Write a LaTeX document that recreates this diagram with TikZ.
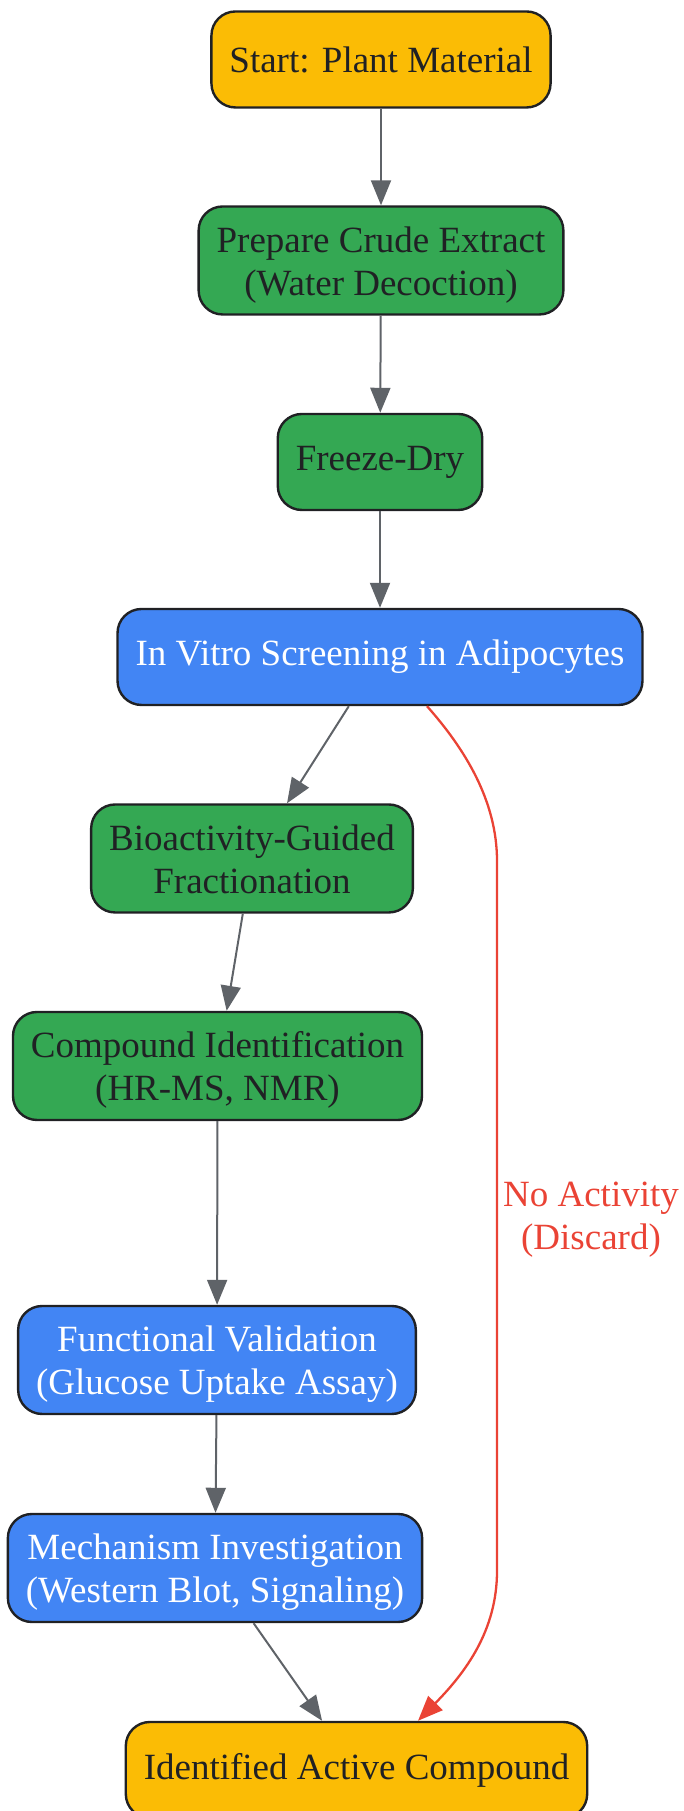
\documentclass[tikz,border=0pt]{standalone}
\usepackage{fontspec}
\setmainfont{Liberation Serif}
\usetikzlibrary{arrows.meta,calc}
\definecolor{gyellow}{HTML}{FBBC05}
\definecolor{ggreen}{HTML}{34A853}
\definecolor{gblue}{HTML}{4285F4}
\definecolor{gred}{HTML}{EA4335}
\definecolor{ggray}{HTML}{5F6368}
\definecolor{gdark}{HTML}{202124}

\begin{document}
\begin{tikzpicture}[x=1pt, y=1pt,
    box/.style={draw=gdark, line width=2.4pt, rounded corners=24pt, align=center,
      inner xsep=18pt, inner ysep=4pt, minimum height=96pt,
      font=\fontsize{37}{43}\selectfont},
    twoline/.style={minimum height=108pt, text height=85pt, text depth=15pt},
    yellowbox/.style={box, fill=gyellow, text=gdark},
    greenbox/.style={box, fill=ggreen, text=gdark},
    bluebox/.style={box, fill=gblue, text=white},
    flow/.style={draw=ggray, line width=2pt, -{Triangle[length=25pt,width=20pt]}},
    reject/.style={draw=gred, line width=2.3pt, -{Triangle[length=25pt,width=20pt]}}]
  \useasboundingbox (0,0) rectangle (684,1811);

  % Nodes
  \node[yellowbox] (start) at (381,1751.5) {Start: Plant Material};
  \node[greenbox, twoline] (extract) at (381,1550.5) {Prepare Crude Extract\\(Water Decoction)};
  \node[greenbox] (freeze) at (380,1349) {Freeze-Dry};
  \node[bluebox] (screen) at (380,1154) {In Vitro Screening in Adipocytes};
  \node[greenbox, twoline] (fraction) at (252,952.5) {Bioactivity-Guided\\Fractionation};
  \node[greenbox, twoline] (ident) at (217.5,745) {Compound Identification\\(HR-MS, NMR)};
  \node[bluebox, twoline] (valid) at (217,451) {Functional Validation\\(Glucose Uptake Assay)};
  \node[bluebox, twoline] (mech) at (215,243) {Mechanism Investigation\\(Western Blot, Signaling)};
  \node[yellowbox] (active) at (356.5,41) {Identified Active Compound};
  \node[text=gred, align=center, font=\fontsize{37}{43}\selectfont] (nolabel) at (591,591) {No Activity\\(Discard)};

  % Edges
  \draw[flow] (start) -- (extract);
  \draw[flow] (extract) -- (freeze);
  \draw[flow] (freeze) -- (screen);
  \draw[flow] (screen) -- (fraction);
  \draw[flow] (fraction) -- (ident);
  \draw[flow] (ident) -- (valid);
  \draw[flow] (valid) -- (mech);
  \draw[flow] (mech) -- (active);

  % Discard branch
  \draw[reject] ($(screen.south)+(47,0)$) .. controls (465,1062) and (497,1010) .. (497,950)
    -- (497,240) .. controls (497,180) and (465,138) .. ($(active.north)+(61.5,0)$);
\end{tikzpicture}
\end{document}
